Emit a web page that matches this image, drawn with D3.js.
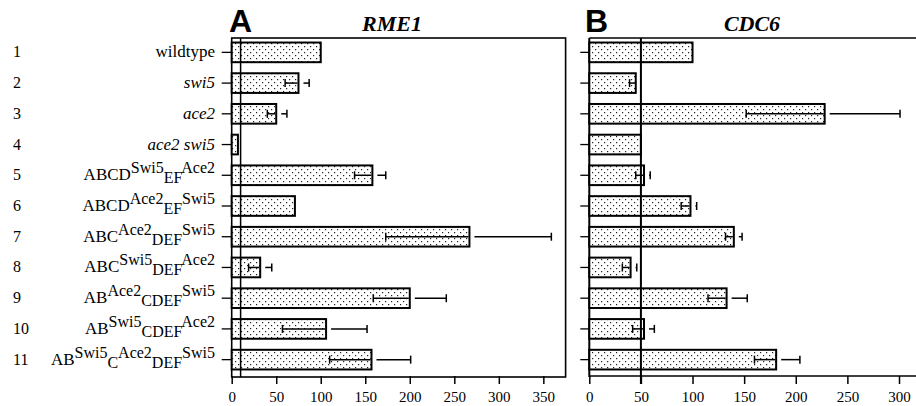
<!DOCTYPE html>
<html>
<head>
<meta charset="utf-8">
<script src="https://cdn.jsdelivr.net/npm/d3@7"></script>
<style>
  body { margin: 0; background: #fff; }
  text { font-family: "Liberation Serif", "Times New Roman", serif; }
</style>
</head>
<body>
<div id="mainContainer"></div>
<script>
'use strict';

var svgWidth = 916,
    svgHeight = 406;

// rows, top to bottom
var rowNumbers = ['1', '2', '3', '4', '5', '6', '7', '8', '9', '10', '11'];

// label pieces: plain, ^sup, _sub, ~italic
var rowLabels = [
    ['wildtype'],
    ['~swi5'],
    ['~ace2'],
    ['~ace2 swi5'],
    ['ABCD', '^Swi5', '_EF', '^Ace2'],
    ['ABCD', '^Ace2', '_EF', '^Swi5'],
    ['ABC', '^Ace2', '_DEF', '^Swi5'],
    ['ABC', '^Swi5', '_DEF', '^Ace2'],
    ['AB', '^Ace2', '_CDEF', '^Swi5'],
    ['AB', '^Swi5', '_CDEF', '^Ace2'],
    ['AB', '^Swi5', '_C', '^Ace2', '_DEF', '^Swi5']
];

// panel A: RME1
var rme1Values = [100, 75, 50, 7, 158, 71, 267, 32, 200, 106, 157];
var rme1Low = [null, 60, 40, null, 138, null, 173, 19, 159, 57, 110];
var rme1High = [null, 87, 62, null, 173, null, 359, 45, 241, 152, 201];
var rme1Ticks = [0, 50, 100, 150, 200, 250, 300, 350];

// panel B: CDC6
var cdc6Values = [100, 45, 228, 50, 53, 98, 140, 40, 133, 53, 181];
var cdc6Low = [null, 39, 152, null, 45, 89, 132, 32, 115, 42, 160];
var cdc6High = [null, 45, 301, null, 59, 104, 148, 46, 153, 63, 204];
var cdc6Ticks = [0, 50, 100, 150, 200, 250, 300];

var frameTop = 38,
    frameBottom = 377;

var svg = d3.select('#mainContainer')
    .append('svg')
    .attr('width', svgWidth)
    .attr('height', svgHeight);

// stipple fill
var pat = svg.append('defs')
    .append('pattern')
    .attr('id', 'dots')
    .attr('patternUnits', 'userSpaceOnUse')
    .attr('width', 6)
    .attr('height', 6);
pat.append('rect').attr('width', 6).attr('height', 6).attr('fill', '#fff');
pat.append('rect').attr('x', 1).attr('y', 1).attr('width', 1.2).attr('height', 1.2).attr('fill', '#222');
pat.append('rect').attr('x', 4).attr('y', 4).attr('width', 1.2).attr('height', 1.2).attr('fill', '#222');

var y = d3.scaleBand()
    .domain(rowNumbers)
    .range([37, 375])
    .paddingInner(0.36)
    .paddingOuter(0.18);

//row numbers
svg.append('g')
    .selectAll('text')
    .data(rowNumbers)
    .join('text')
    .attr('x', 13)
    .attr('y', function (d) { return y(d) + y.bandwidth() / 2 + 5; })
    .attr('font-size', 16)
    .text(function (d) { return d; });

//row labels
var lab = svg.append('g')
    .selectAll('text')
    .data(rowLabels)
    .join('text')
    .attr('x', 215)
    .attr('y', function (d, i) { return y(rowNumbers[i]) + y.bandwidth() / 2 + 5; })
    .attr('text-anchor', 'end')
    .attr('font-size', 17);

lab.each(function (parts) {
    var t = d3.select(this),
        shift = 0;
    parts.forEach(function (p) {
        var kind = p.charAt(0),
            s = t.append('tspan');
        if (kind === '^' || kind === '_') {
            var target = kind === '^' ? -7 : 3;
            s.attr('dy', target - shift).attr('font-size', 16).text(p.slice(1));
            shift = target;
        } else if (kind === '~') {
            s.attr('font-style', 'italic').text(p.slice(1));
        } else {
            s.attr('dy', -shift).text(p);
            shift = 0;
        }
    });
});

function drawPanel(opts) {
    var x = d3.scaleLinear()
        .domain(opts.domain)
        .range(opts.range);

    var g = svg.append('g');

    // frame
    if (opts.boxed) {
        g.append('rect')
            .attr('x', x(0))
            .attr('y', frameTop)
            .attr('width', x(opts.domain[1]) - x(0))
            .attr('height', frameBottom - frameTop)
            .attr('fill', 'none')
            .attr('stroke', '#000')
            .attr('stroke-width', 1.6);
    } else {
        [frameTop, frameBottom - 1].forEach(function (yy) {
            g.append('line')
                .attr('x1', x(0)).attr('x2', svgWidth)
                .attr('y1', yy).attr('y2', yy)
                .attr('stroke', '#000')
                .attr('stroke-width', 1.6);
        });
        g.append('line')
            .attr('x1', x(0)).attr('x2', x(0))
            .attr('y1', frameTop).attr('y2', frameBottom)
            .attr('stroke', '#000')
            .attr('stroke-width', 2);
    }

    // left ticks
    g.append('g')
        .selectAll('line')
        .data(rowNumbers)
        .join('line')
        .attr('x1', x(0) - opts.tickLen)
        .attr('x2', x(0))
        .attr('y1', function (d) { return y(d) + y.bandwidth() / 2; })
        .attr('y2', function (d) { return y(d) + y.bandwidth() / 2; })
        .attr('stroke', '#000')
        .attr('stroke-width', 1.3);

    // bars
    g.append('g')
        .selectAll('rect')
        .data(opts.values)
        .join('rect')
        .attr('x', x(0))
        .attr('y', function (d, i) { return y(rowNumbers[i]); })
        .attr('width', function (d) { return x(d) - x(0); })
        .attr('height', y.bandwidth())
        .attr('fill', 'url(#dots)')
        .attr('stroke', '#000')
        .attr('stroke-width', 2);

    // error bars
    var err = g.append('g')
        .attr('stroke', '#000')
        .attr('stroke-width', 1.5);

    opts.values.forEach(function (v, i) {
        var lo = opts.low[i],
            hi = opts.high[i],
            cy = y(rowNumbers[i]) + y.bandwidth() / 2;
        if (lo === null) { return; }
        err.append('line')
            .attr('x1', x(lo)).attr('x2', x(v) - 1)
            .attr('y1', cy).attr('y2', cy);
        err.append('line')
            .attr('x1', x(lo)).attr('x2', x(lo))
            .attr('y1', cy - 4).attr('y2', cy + 4);
        if (x(hi) - x(v) > 6) {
            err.append('line')
                .attr('x1', x(v) + 5).attr('x2', x(hi))
                .attr('y1', cy).attr('y2', cy);
            err.append('line')
                .attr('x1', x(hi)).attr('x2', x(hi))
                .attr('y1', cy - 4).attr('y2', cy + 4);
        }
    });

    // reference line
    g.append('line')
        .attr('x1', x(opts.refLine)).attr('x2', x(opts.refLine))
        .attr('y1', frameTop).attr('y2', opts.refBottom)
        .attr('stroke', '#000')
        .attr('stroke-width', opts.refWidth);

    // x axis
    var axis = g.append('g')
        .attr('transform', 'translate(0,' + (frameBottom - 1) + ')')
        .call(d3.axisBottom(x).tickValues(opts.ticks).tickSize(8).tickPadding(7));
    axis.select('.domain').remove();
    axis.selectAll('line').attr('stroke-width', 1.5);
    axis.selectAll('text')
        .style('font-family', '"Liberation Serif", serif')
        .style('font-size', '15px')
        .attr('fill', '#000');

    // panel letter and gene name
    svg.append('text')
        .attr('x', opts.letterX)
        .attr('y', 32)
        .style('font-family', '"Liberation Sans", Arial, sans-serif')
        .style('font-size', '32px')
        .style('font-weight', 'bold')
        .text(opts.letter);

    svg.append('text')
        .attr('x', opts.titleX)
        .attr('y', 31)
        .attr('text-anchor', 'middle')
        .attr('font-size', 22)
        .attr('font-weight', 'bold')
        .attr('font-style', 'italic')
        .text(opts.title);
}

drawPanel({
    values: rme1Values, low: rme1Low, high: rme1High, ticks: rme1Ticks,
    domain: [0, 375], range: [231.7, 565.6], boxed: true, tickLen: 10,
    refLine: 10, refBottom: frameBottom, refWidth: 1.5,
    letter: 'A', letterX: 229, title: 'RME1', titleX: 392
});

drawPanel({
    values: cdc6Values, low: cdc6Low, high: cdc6High, ticks: cdc6Ticks,
    domain: [0, 300], range: [589.3, 899], boxed: false, tickLen: 9,
    refLine: 50, refBottom: frameBottom + 7, refWidth: 2,
    letter: 'B', letterX: 585, title: 'CDC6', titleX: 752
});
</script>
</body>
</html>
